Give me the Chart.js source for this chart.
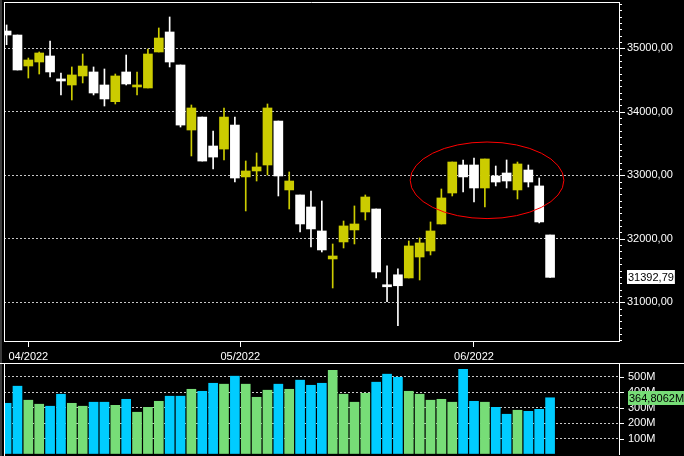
<!DOCTYPE html>
<html>
<head>
<meta charset="utf-8">
<script src="https://cdn.jsdelivr.net/npm/chart.js@4.4.1/dist/chart.umd.min.js"></script>
<style>
    html, body { margin: 0; padding: 0; background: #000; overflow: hidden; }
    #faixa { position: absolute; left: 0; top: 0; width: 2px; height: 456px; background: #3a3a3a; }
    #graficoPreco { position: absolute; left: 0; top: 0; }
    #graficoVolume { position: absolute; left: 0; top: 363px; }
</style>
</head>
<body>
<div id="faixa"></div>
<canvas id="graficoPreco" width="684" height="363"></canvas>
<canvas id="graficoVolume" width="684" height="93"></canvas>
<script>
// pregões de 30/03/2022 a 10/06/2022
const abertura = [35272, 35209, 34721, 34784, 34879, 34517, 34422, 34564, 34627, 34422,
    34159, 34627, 34391, 34375, 34942, 35257, 34737, 33713, 33917, 33461,
    33413, 33791, 32974, 33068, 33162, 33854, 32769, 32690, 32501, 32123,
    31682, 31950, 32139, 32422, 32469, 31276, 31433, 31383, 31713, 31808,
    32233, 32721, 33162, 33162, 32800, 32989, 33036, 32769, 33083, 32832, 32060];
const maxima = [35367, 35209, 34847, 34942, 35115, 34611, 34706, 34910, 34706, 34674,
    34595, 34894, 34627, 34989, 35320, 35493, 34737, 34107, 33917, 33696,
    34060, 33917, 33225, 33351, 34123, 33854, 33052, 32690, 32753, 32595,
    31918, 32280, 32517, 32690, 32469, 31575, 31528, 31965, 32013, 32265,
    32784, 33209, 33241, 33272, 33257, 33146, 33241, 33209, 33162, 32957, 32060];
const minima = [35057, 34658, 34532, 34595, 34548, 34265, 34186, 34454, 34265, 34091,
    34123, 34422, 34265, 34375, 34942, 34706, 33760, 33304, 33224, 33099,
    33241, 32894, 32438, 32910, 33005, 32674, 32469, 32107, 31871, 31792,
    31225, 31855, 31918, 32296, 31383, 31008, 30630, 31383, 31351, 31745,
    32233, 32674, 32737, 32580, 32501, 32832, 32800, 32627, 32816, 32249, 31392.79];
const fechamento = [35209, 34658, 34816, 34926, 34627, 34485, 34580, 34721, 34296, 34202,
    34564, 34438, 34422, 34910, 35162, 34784, 33791, 34060, 33224, 33287,
    33917, 32957, 33068, 33131, 34060, 32989, 32910, 32233, 32155, 31824,
    31729, 32202, 32233, 32658, 31477, 31244, 31260, 31887, 31934, 32123,
    32643, 33209, 32974, 32800, 33257, 32894, 32910, 33178, 32894, 32265, 31392.79];
// volume em milhões
const volumes = [329, 440, 349, 323, 310, 388, 329, 310, 336, 336,
    316, 355, 271, 303, 342, 375, 375, 420, 407, 459,
    453, 505, 453, 368, 414, 453, 420, 479, 446, 459,
    543, 388, 336, 394, 466, 518, 498, 407, 388, 349,
    355, 336, 550, 342, 336, 303, 258, 284, 277, 290, 364.8062];

const rotulosMeses = ['04/2022', '05/2022', '06/2022'];
const posicoesMeses = [2, 21.5, 43];
const ticksPreco = [31000, 32000, 33000, 34000, 35000];
const ticksVolume = [100, 200, 300, 400, 500];

// marcação em vermelho (centro e raios em unidades do gráfico)
const destaque = { centroX: 44.2, centroY: 32921, raioX: 7.07, raioY: 603 };

const COR_ALTA = '#cccc00';
const COR_BAIXA = '#ffffff';
const COR_VOL_ALTA = '#77dd77';
const COR_VOL_BAIXA = '#00ccff';
const COR_GRADE = '#c8c8c8';
const FONTE = '"Liberation Sans", Arial, sans-serif';

Chart.defaults.font.family = FONTE;
Chart.defaults.font.size = 11;
Chart.defaults.color = '#ffffff';

const indices = fechamento.map((_, i) => i);
const subiu = indices.map((i) => fechamento[i] >= abertura[i]);

const X_MIN = -0.24;
const X_MAX = 56.34;

function formatarPreco(valor) {
    return valor.toFixed(2).replace('.', ',');
}

// tira o espaço extra que o Chart.js reserva para metade dos rótulos
function semFolga(escala) {
    escala.paddingTop = 0;
    escala.paddingBottom = 0;
    escala.paddingLeft = 0;
    escala.paddingRight = 0;
}

const moldura = {
    id: 'moldura',
    afterDraw(chart, args, opcoes) {
        const { ctx, chartArea } = chart;
        ctx.save();
        ctx.strokeStyle = '#ffffff';
        ctx.lineWidth = 1;
        ctx.beginPath();
        ctx.moveTo(chartArea.left + 0.5, opcoes.topoTotal ? chart.height : chartArea.bottom);
        ctx.lineTo(chartArea.left + 0.5, opcoes.topoTotal ? 0 : chartArea.top);
        if (opcoes.topoTotal) {
            ctx.moveTo(0, 0.5);
            ctx.lineTo(chart.width, 0.5);
        } else {
            ctx.moveTo(chartArea.left, chartArea.top + 0.5);
            ctx.lineTo(chartArea.right, chartArea.top + 0.5);
        }
        ctx.stroke();
        ctx.restore();
    }
};

const marcasEixo = {
    id: 'marcasEixo',
    afterDraw(chart, args, opcoes) {
        const escala = chart.scales.y;
        const { ctx, chartArea } = chart;
        ctx.save();
        ctx.strokeStyle = '#ffffff';
        ctx.lineWidth = 1;
        escala.ticks.forEach((tick) => {
            const valor = Math.round(tick.value);
            if (valor % opcoes.passo !== 0 || valor <= escala.min) {
                return;
            }
            const comprimento = valor % opcoes.passoMaior === 0 ? opcoes.longa : opcoes.curta;
            const y = Math.round(escala.getPixelForValue(valor)) + 0.5;
            ctx.beginPath();
            ctx.moveTo(chartArea.right, y);
            ctx.lineTo(chartArea.right + comprimento, y);
            ctx.stroke();
        });
        ctx.restore();
    }
};

const rotuloUltimo = {
    id: 'rotuloUltimo',
    afterDraw(chart, args, opcoes) {
        const { ctx, chartArea } = chart;
        const y = Math.round(chart.scales.y.getPixelForValue(opcoes.valor));
        const x = chartArea.right + opcoes.deslocamento;
        ctx.save();
        ctx.font = '11px ' + FONTE;
        const largura = ctx.measureText(opcoes.texto).width + 2;
        ctx.fillStyle = opcoes.fundo;
        ctx.fillRect(x, y - 7, largura, 14);
        ctx.fillStyle = '#000000';
        ctx.textBaseline = 'middle';
        ctx.fillText(opcoes.texto, x + 1, y + 0.5);
        ctx.restore();
    }
};

const elipse = {
    id: 'elipse',
    afterDatasetsDraw(chart, args, opcoes) {
        const { ctx, scales } = chart;
        const cx = scales.x.getPixelForValue(opcoes.centroX);
        const cy = scales.y.getPixelForValue(opcoes.centroY);
        const rx = scales.x.getPixelForValue(opcoes.centroX + opcoes.raioX) - cx;
        const ry = cy - scales.y.getPixelForValue(opcoes.centroY + opcoes.raioY);
        ctx.save();
        ctx.strokeStyle = '#ff0000';
        ctx.lineWidth = 1;
        ctx.beginPath();
        ctx.ellipse(cx, cy, rx, ry, 0, 0, Math.PI * 2);
        ctx.stroke();
        ctx.restore();
    }
};

new Chart(document.getElementById('graficoPreco').getContext('2d'), {
    type: 'bar',
    data: {
        datasets: [
            {
                label: 'Corpo',
                data: indices.map((i) => ({ x: i, y: [abertura[i], fechamento[i]] })),
                backgroundColor: indices.map((i) => (subiu[i] ? COR_ALTA : COR_BAIXA)),
                barThickness: 9,
                minBarLength: 2,
                grouped: false,
                borderWidth: 0
            },
            {
                label: 'Pavio',
                data: indices.map((i) => ({ x: i, y: [minima[i], maxima[i]] })),
                backgroundColor: indices.map((i) => (subiu[i] ? COR_ALTA : COR_BAIXA)),
                barThickness: 1,
                grouped: false,
                borderWidth: 0
            }
        ]
    },
    options: {
        responsive: false,
        animation: false,
        layout: { padding: { left: 4, top: 2, right: 0, bottom: 0 } },
        scales: {
            x: {
                type: 'linear',
                position: 'bottom',
                offset: false,
                min: X_MIN,
                max: X_MAX,
                afterBuildTicks: (escala) => {
                    escala.ticks = posicoesMeses.map((v) => ({ value: v }));
                },
                afterFit: (escala) => {
                    escala.height = 22;
                    semFolga(escala);
                },
                ticks: {
                    autoSkip: false,
                    maxRotation: 0,
                    padding: 3,
                    color: '#ffffff',
                    callback: (valor, indice) => rotulosMeses[indice]
                },
                grid: {
                    offset: false,
                    drawOnChartArea: false,
                    drawTicks: true,
                    tickLength: 6,
                    tickColor: '#ffffff'
                },
                border: { color: '#ffffff', width: 1 }
            },
            y: {
                position: 'right',
                min: 30390,
                max: 35729,
                afterFit: (escala) => {
                    escala.width = 65;
                    semFolga(escala);
                },
                ticks: {
                    stepSize: 100,
                    includeBounds: false,
                    autoSkip: false,
                    padding: 8,
                    color: '#ffffff',
                    callback: (valor) => (ticksPreco.includes(Math.round(valor)) ? formatarPreco(valor) : '')
                },
                grid: {
                    drawTicks: false,
                    color: (c) => (c.tick && ticksPreco.includes(Math.round(c.tick.value)) ? COR_GRADE : 'transparent')
                },
                border: { color: '#ffffff', width: 1, dash: [2, 2] }
            }
        },
        plugins: {
            legend: { display: false },
            tooltip: { enabled: false },
            moldura: { topoTotal: false },
            marcasEixo: { passo: 100, passoMaior: 1000, curta: 3, longa: 6 },
            rotuloUltimo: {
                valor: fechamento[fechamento.length - 1],
                texto: formatarPreco(fechamento[fechamento.length - 1]),
                fundo: '#ffffff',
                deslocamento: 8
            },
            elipse: destaque
        }
    },
    plugins: [moldura, marcasEixo, rotuloUltimo, elipse]
});

const ultimoVolume = volumes[volumes.length - 1];

new Chart(document.getElementById('graficoVolume').getContext('2d'), {
    type: 'bar',
    data: {
        datasets: [
            {
                label: 'Volume',
                data: indices.map((i) => ({ x: i, y: volumes[i] })),
                backgroundColor: indices.map((i) => (subiu[i] ? COR_VOL_ALTA : COR_VOL_BAIXA)),
                barThickness: 9,
                borderWidth: 0
            }
        ]
    },
    options: {
        responsive: false,
        animation: false,
        layout: { padding: { left: 4, top: 1, right: 0, bottom: 2 } },
        scales: {
            x: {
                type: 'linear',
                display: false,
                offset: false,
                min: X_MIN,
                max: X_MAX
            },
            y: {
                position: 'right',
                min: 0,
                max: 584,
                afterFit: (escala) => {
                    escala.width = 65;
                    semFolga(escala);
                },
                ticks: {
                    stepSize: 100,
                    includeBounds: false,
                    autoSkip: false,
                    padding: 9,
                    color: '#ffffff',
                    callback: (valor) => (ticksVolume.includes(Math.round(valor)) ? valor + 'M' : '')
                },
                grid: {
                    drawTicks: false,
                    color: (c) => (c.tick && ticksVolume.includes(Math.round(c.tick.value)) ? COR_GRADE : 'transparent')
                },
                border: { color: '#ffffff', width: 1, dash: [2, 2] }
            }
        },
        plugins: {
            legend: { display: false },
            tooltip: { enabled: false },
            moldura: { topoTotal: true },
            marcasEixo: { passo: 100, passoMaior: 100, curta: 5, longa: 5 },
            rotuloUltimo: {
                valor: ultimoVolume,
                texto: ultimoVolume.toFixed(4).replace('.', ',') + 'M',
                fundo: COR_VOL_ALTA,
                deslocamento: 9
            }
        }
    },
    plugins: [moldura, marcasEixo, rotuloUltimo]
});
</script>
</body>
</html>
